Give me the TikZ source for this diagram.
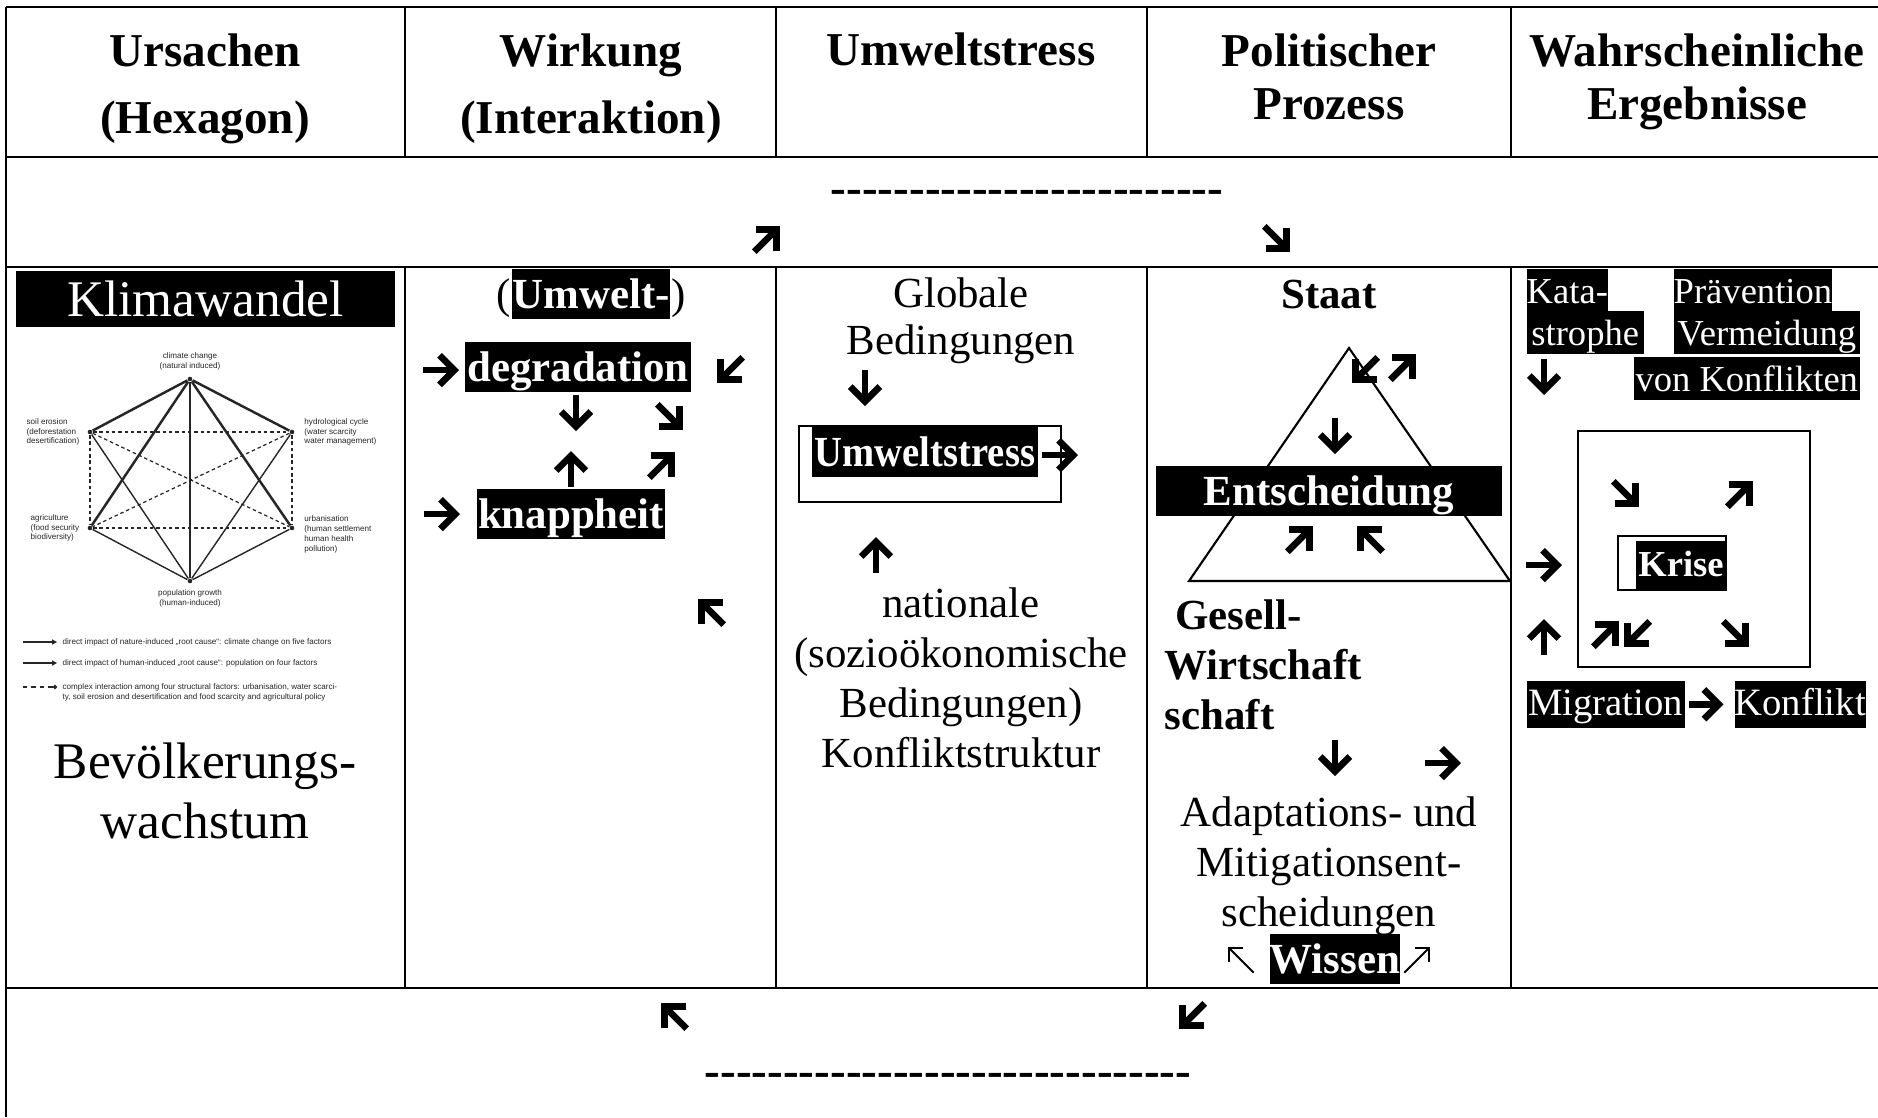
\documentclass[tikz,border=0pt]{standalone}
\usepackage{fontspec}
\setmainfont{Liberation Serif}
\setsansfont{Liberation Sans}
\usepackage{graphicx}
\usetikzlibrary{arrows.meta,positioning,calc}

% Pfeil-Glyphe: Mitte, Richtung (0 = rechts, 90 = unten)
\newcommand{\pfeil}[3][pfeil]{\draw[#1] ($(#2)+(#3+180:18)$) -- ++(#3:36);}
\newcommand{\strichzeile}[1]{\foreach \k in {1,...,#1}{\mbox{-}}}

\tikzset{
  linie/.style={line width=0.7pt},
  kopf/.style={font=\fontsize{13.4}{15}\selectfont\bfseries, align=center, inner sep=0pt},
  schrift/.style={font=\fontsize{12.2}{14.2}\selectfont, align=center, inner sep=0pt},
  fett/.style={font=\fontsize{12.2}{14.2}\selectfont\bfseries, align=center, inner sep=0pt},
  gross/.style={font=\fontsize{14.6}{17}\selectfont, align=center, inner sep=0pt},
  klein/.style={font=\fontsize{10.4}{12.8}\selectfont, inner sep=0pt},
  mittel/.style={font=\fontsize{11}{13}\selectfont, inner sep=0pt},
  markiert/.style={fill=black, text=white, inner sep=0pt, anchor=base, text height=11.2pt, text depth=3pt},
  markiertklein/.style={markiert, text height=9.6pt, text depth=2.6pt},
  rahmen/.style={draw, line width=0.6pt, inner sep=0pt},
  pfeil/.style={line width=1.9pt, -{Straight Barb[length=4.2pt,width=8.4pt]}},
  duenn/.style={line width=0.55pt, -{Straight Barb[length=2.8pt,width=5.6pt]}},
  ecke/.style={circle, fill=black!85, inner sep=0pt, minimum size=1.3pt},
  hexlabel/.style={font=\fontsize{2.3}{2.8}\selectfont\sffamily, text=black!85, align=left, inner sep=0pt},
}

\begin{document}
\begin{tikzpicture}[x=0.01cm, y=-0.01cm]
    \useasboundingbox (0,0) rectangle (1878,1117);

    % Tabelle
    \foreach \y in {7,157,267,988} {
        \draw[linie] (6,\y) -- (1878,\y);
    }
    \draw[linie] (6,7) -- (6,1117);
    \foreach \x in {405,776,1147,1511} {
        \draw[line width=0.6pt] (\x,7) -- (\x,157);
        \draw[line width=0.6pt] (\x,267) -- (\x,988);
    }

    % Kopfzeile
    \node[kopf, anchor=north] (kopf1) at (205,33) {Ursachen\\[4pt](Hexagon)};
    \node[kopf, anchor=north] (kopf2) at (591,33) {Wirkung\\[4pt](Interaktion)};
    \node[kopf, anchor=base] (kopf3) at (961,65) {Umweltstress};
    \node[kopf, anchor=north] (kopf4) at (1329,33) {Politischer\\Prozess};
    \node[kopf, anchor=north] (kopf5) at (1697,33) {Wahrscheinliche\\Ergebnisse};

    % zweite Zeile
    \node[kopf, anchor=base] (striche1) at (1027,203) {\strichzeile{25}};
    \pfeil{767,239}{315}
    \pfeil{1277,239}{45}

    % Ursachen
    \node[gross, fill=black, text=white, minimum width=3.79cm, minimum height=0.56cm] (klimawandel) at (205.5,299) {Klimawandel};
    \begin{scope}[black!85]
    \foreach \n/\x/\y in {hklima/190/379, hboden/90/432, hwasser/292/432, hagrar/90/528, hstadt/292/528, hbevoelk/190/581} {
        \node[ecke] (\n) at (\x,\y) {};
    }
    \foreach \n in {hboden,hwasser,hagrar,hstadt,hbevoelk} {
        \draw[line width=0.7pt] (hklima) -- (\n);
    }
    \foreach \n in {hboden,hwasser,hagrar,hstadt} {
        \draw[line width=0.4pt] (hbevoelk) -- (\n);
    }
    \foreach \a/\b in {hboden/hwasser, hagrar/hstadt, hboden/hagrar, hwasser/hstadt, hboden/hstadt, hwasser/hagrar} {
        \draw[line width=0.35pt, dash pattern=on 1pt off 0.8pt] (\a) -- (\b);
    }
    \node[hexlabel, align=center, above=1.5pt of hklima] (lklima) {climate change\\(natural induced)};
    \node[hexlabel, left=2pt of hboden] (lboden) {soil erosion\\(deforestation\\desertification)};
    \node[hexlabel, right=2.5pt of hwasser] (lwasser) {hydrological cycle\\(water scarcity\\water management)};
    \node[hexlabel, left=2pt of hagrar] (lagrar) {agriculture\\(food security\\biodiversity)};
    \node[hexlabel, right=2.5pt of hstadt, anchor=north west, yshift=3.7pt] (lstadt) {urbanisation\\(human settlement\\human health\\pollution)};
    \node[hexlabel, align=center, below=1.5pt of hbevoelk] (lbevoelk) {population growth\\(human-induced)};
    % Legende
    \coordinate (leg1a) at (23,642);
    \coordinate (leg2a) at (23,663);
    \coordinate (leg3a) at (23,687);
    \node[hexlabel, anchor=west] (leg1) at (62,642) {direct impact of nature-induced „root cause“: climate change on five factors};
    \node[hexlabel, anchor=west] (leg2) at (62,663) {direct impact of human-induced „root cause“: population on four factors};
    \node[hexlabel, anchor=north west] (leg3) at (62,683) {complex interaction among four structural factors: urbanisation, water scarci-\\ty, soil erosion and desertification and food scarcity and agricultural policy};
    \draw[line width=0.7pt, -{Triangle[length=1.4pt,width=1.4pt]}, shorten >=1.4pt] (leg1a) -- (leg1.west);
    \draw[line width=0.4pt, -{Triangle[length=1.4pt,width=1.4pt]}, shorten >=1.4pt] (leg2a) -- (leg2.west);
    \draw[line width=0.35pt, dash pattern=on 1.2pt off 1.2pt, -{Circle[length=1.2pt]}, shorten >=1.4pt] (leg3a) -- (leg3a -| leg3.west);
    \end{scope}
    \node[gross, anchor=north] (bevoelkerung) at (205,742) {Bevölkerungs-\\wachstum};

    % Wirkung
    \node[fett, markiert] (umwelt) at (591,308) {Umwelt-};
    \node[schrift, anchor=base east] (klauf) at (umwelt.base west) {(};
    \node[schrift, anchor=base west] (klzu) at (umwelt.base east) {)};
    \node[fett, markiert, minimum width=2.25cm] (degradation) at (578,381) {degradation};
    \node[fett, markiert, minimum width=1.88cm] (knappheit) at (571,528) {knappheit};
    \pfeil{441,370}{0}
    \pfeil{730,370}{135}
    \pfeil{576,413}{90}
    \pfeil{670,417}{45}
    \pfeil{571,469}{270}
    \pfeil{662,465}{315}
    \pfeil{442,514}{0}
    \pfeil{711,612}{225}

    % Umweltstress
    \node[schrift, anchor=north, font=\fontsize{12.2}{13.4}\selectfont] (global) at (961,277) {Globale\\Bedingungen};
    \pfeil{865,388}{90}
    \node[rahmen, minimum width=2.62cm, minimum height=0.76cm] (stressrahmen) at (930,464) {};
    \node[fett, markiert, minimum width=2.26cm] (stress) at (925,466) {\scalebox{0.9}[1]{Umweltstress}};
    \pfeil{1060,455}{0}
    \pfeil{876,555}{270}
    \node[schrift, anchor=north] (national) at (961,587) {nationale\\(sozioökonomische\\Bedingungen)\\Konfliktstruktur};

    % Politischer Prozess
    \node[fett, anchor=base] (staat) at (1329,308) {Staat};
    \coordinate (spitze) at (1349,348);
    \coordinate (links) at (1189,581);
    \coordinate (rechts) at (1510,581);
    \draw[line width=0.6pt] (spitze) -- (links) -- (rechts) -- cycle;
    \pfeil{1365,370}{135}
    \pfeil{1403,367}{315}
    \pfeil{1335,436}{90}
    \node[fett, markiert, minimum width=3.46cm] (entscheidung) at (1329,505) {Entscheidung};
    \pfeil{1300,539}{315}
    \pfeil{1370,539}{225}
    \node[fett, anchor=north west, align=left] (gesellschaft) at (1164,599) {\ Gesell-\\Wirtschaft\\schaft};
    \pfeil{1335,758}{90}
    \pfeil{1443,763}{0}
    \node[schrift, anchor=north] (adaption) at (1329,796) {Adaptations- und\\Mitigationsent-\\scheidungen};
    \node[fett, markiert] (wissen) at (1335,973) {Wissen};
    \pfeil[duenn]{1241,960}{225}
    \pfeil[duenn]{1417,960}{315}

    % Ergebnisse
    \node[klein, markiertklein, anchor=base west] (kata) at (1526,303) {Kata-};
    \node[klein, markiertklein, anchor=base west, minimum width=1.17cm] (strophe) at (1526,345) {strophe};
    \node[klein, markiertklein, anchor=base west] (praevention) at (1673,303) {Prävention};
    \node[klein, markiertklein, anchor=base west, minimum width=1.86cm] (vermeidung) at (1673,345) {Vermeidung};
    \node[klein, markiertklein, anchor=base west, minimum width=2.26cm] (konflikte) at (1633,391) {von Konflikten};
    \pfeil{1544,377}{90}
    \node[rahmen, minimum width=2.32cm, minimum height=2.36cm] (krisenfeld) at (1694,549) {};
    \pfeil{1626,494}{45}
    \pfeil{1740,494}{315}
    \node[rahmen, minimum width=1.08cm, minimum height=0.54cm] (kriserahmen) at (1672,563) {};
    \node[markiert, font=\fontsize{10.4}{12}\selectfont\bfseries, text height=9.9pt, text depth=4pt, minimum width=0.9cm] (krise) at (1681,576) {Krise};
    \pfeil{1544,565}{0}
    \pfeil{1544,637}{270}
    \pfeil{1606,634}{315}
    \pfeil{1637,634}{135}
    \pfeil{1736,634}{45}
    \node[mittel, markiert, text height=9.7pt, text depth=3.6pt, anchor=base west, minimum width=1.58cm] (migration) at (1526,715) {Migration};
    \node[mittel, markiert, text height=9.7pt, text depth=3.6pt, anchor=base west, minimum width=1.27cm] (konflikt) at (1734,715) {Konflikt};
    \draw[pfeil, shorten <=1.1pt, shorten >=3pt] (migration.east) -- (konflikt.west);

    % Rueckkopplung unten
    \pfeil{674,1016}{225}
    \pfeil{1192,1016}{135}
    \node[kopf, anchor=base] (striche2) at (948,1086) {\strichzeile{31}};
\end{tikzpicture}
\end{document}
